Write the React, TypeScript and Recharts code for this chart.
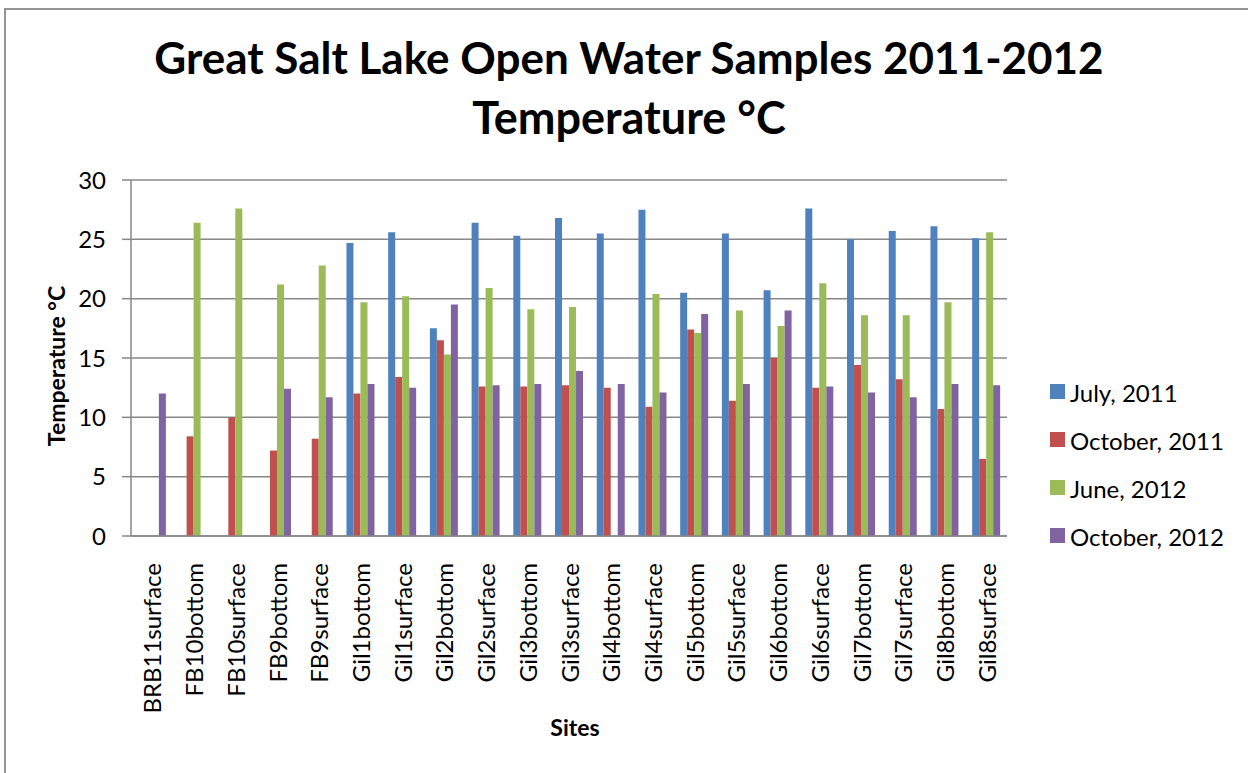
import React from "react";
import { Bar, BarChart, CartesianGrid, XAxis, YAxis } from "recharts";

const sites = [
  "BRB11surface", "FB10bottom", "FB10surface", "FB9bottom", "FB9surface",
  "Gil1bottom", "Gil1surface", "Gil2bottom", "Gil2surface", "Gil3bottom",
  "Gil3surface", "Gil4bottom", "Gil4surface", "Gil5bottom", "Gil5surface",
  "Gil6bottom", "Gil6surface", "Gil7bottom", "Gil7surface", "Gil8bottom",
  "Gil8surface",
];

const july2011 = [null, null, null, null, null, 24.7, 25.6, 17.5, 26.4, 25.3, 26.8, 25.5, 27.5, 20.5, 25.5, 20.7, 27.6, 25.0, 25.7, 26.1, 25.1];
const october2011 = [null, 8.4, 10.0, 7.2, 8.2, 12.0, 13.4, 16.5, 12.6, 12.6, 12.7, 12.5, 10.9, 17.4, 11.4, 15.0, 12.5, 14.4, 13.2, 10.7, 6.5];
const june2012 = [null, 26.4, 27.6, 21.2, 22.8, 19.7, 20.2, 15.3, 20.9, 19.1, 19.3, null, 20.4, 17.1, 19.0, 17.7, 21.3, 18.6, 18.6, 19.7, 25.6];
const october2012 = [12.0, null, null, 12.4, 11.7, 12.8, 12.5, 19.5, 12.7, 12.8, 13.9, 12.8, 12.1, 18.7, 12.8, 19.0, 12.6, 12.1, 11.7, 12.8, 12.7];

const yTicks = [0, 5, 10, 15, 20, 25, 30];

const series = [
  { key: "jul11", name: "July, 2011", color: "#4F81BD", values: july2011 },
  { key: "oct11", name: "October, 2011", color: "#C0504D", values: october2011 },
  { key: "jun12", name: "June, 2012", color: "#9BBB59", values: june2012 },
  { key: "oct12", name: "October, 2012", color: "#8064A2", values: october2012 },
];

const data = sites.map((site, i) => {
  const row: Record<string, string | number | null> = { site };
  series.forEach((s) => {
    row[s.key] = s.values[i];
  });
  return row;
});

const FONT = "Lato, 'Open Sans', sans-serif";
const GRID = "#878787";

function SiteTick(props: any) {
  const { x, y, payload } = props;
  return (
    <g transform={`translate(${x},${y + 19})`}>
      <text
        transform="rotate(-90)"
        textAnchor="end"
        dominantBaseline="central"
        fontSize={24}
        fontFamily={FONT}
        fill="#000"
      >
        {payload.value}
      </text>
    </g>
  );
}

export default function App() {
  return (
    <div
      style={{
        position: "fixed",
        left: 0,
        top: 0,
        width: 1248,
        height: 773,
        overflow: "hidden",
        background: "#fff",
        fontFamily: FONT,
      }}
    >
      <div
        style={{
          position: "absolute",
          left: 4,
          top: 8,
          width: 1300,
          height: 900,
          border: "2px solid #959595",
        }}
      />
      <div style={{ position: "absolute", left: 0, top: 0 }}>
        <BarChart
          width={1248}
          height={773}
          data={data}
          margin={{ top: 180, right: 241, left: 71, bottom: 57 }}
          barCategoryGap="16.5%"
          barGap={0}
        >
          <CartesianGrid vertical={false} stroke={GRID} strokeWidth={1.5} />
          <XAxis
            dataKey="site"
            interval={0}
            height={180}
            tickLine={false}
            axisLine={{ stroke: GRID, strokeWidth: 1.5 }}
            tick={<SiteTick />}
          />
          <YAxis
            width={60}
            domain={[0, 30]}
            ticks={yTicks}
            interval={0}
            tickSize={9}
            tickMargin={16}
            axisLine={{ stroke: GRID, strokeWidth: 1.5 }}
            tickLine={{ stroke: GRID, strokeWidth: 1.5 }}
            tick={{ fill: "#000", fontSize: 24, fontFamily: FONT }}
          />
          {series.map((s) => (
            <Bar
              key={s.key}
              dataKey={s.key}
              name={s.name}
              fill={s.color}
              isAnimationActive={false}
            />
          ))}
        </BarChart>
      </div>
      <svg
        width={1248}
        height={773}
        style={{ position: "absolute", left: 0, top: 0, pointerEvents: "none" }}
        fontFamily={FONT}
      >
        <text x={629} y={74} textAnchor="middle" fontSize={44} fontWeight="bold">
          Great Salt Lake Open Water Samples 2011-2012
        </text>
        <text x={629} y={134} textAnchor="middle" fontSize={45} fontWeight="bold">
          Temperature °C
        </text>
        <text
          transform="translate(56,366) rotate(-90)"
          textAnchor="middle"
          dominantBaseline="central"
          fontSize={23}
          fontWeight="bold"
        >
          Temperature °C
        </text>
        <text x={575} y={736} textAnchor="middle" fontSize={23} fontWeight="bold">
          Sites
        </text>
        {series.map((s, i) => (
          <g key={s.key} transform={`translate(1050,${391 + i * 48})`}>
            <rect x={0} y={-7} width={15} height={15} fill={s.color} />
            <text x={20} y={1} dominantBaseline="central" fontSize={24}>
              {s.name}
            </text>
          </g>
        ))}
      </svg>
    </div>
  );
}
